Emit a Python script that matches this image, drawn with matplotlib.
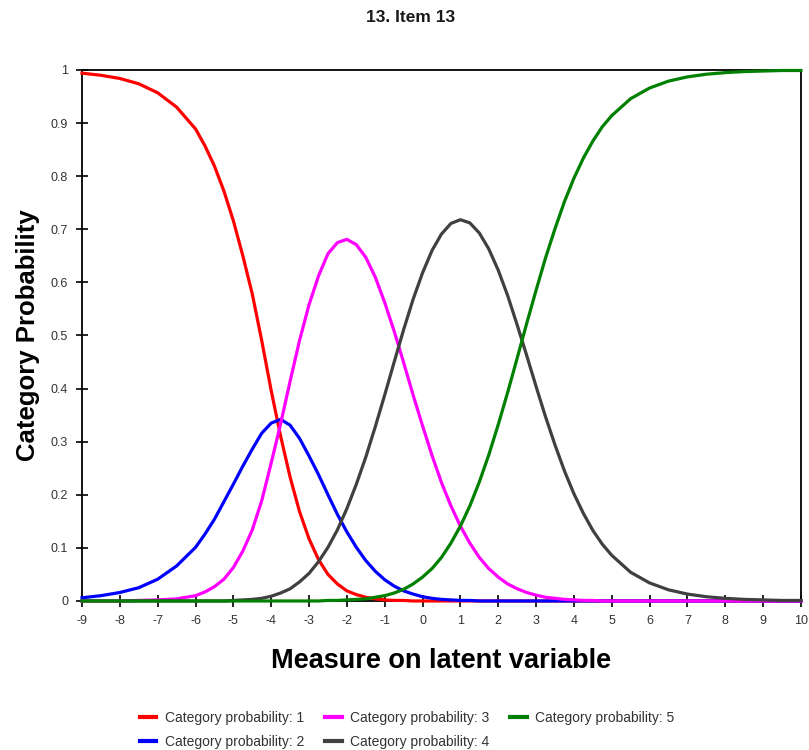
import matplotlib
matplotlib.use('Agg')
import matplotlib.pyplot as plt

plt.rcParams['font.family'] = ['Liberation Sans', 'DejaVu Sans']

# Measure on latent variable (grid)
theta = [-9, -8.5, -8, -7.5, -7, -6.5,
         -6, -5.75, -5.5, -5.25, -5, -4.75, -4.5, -4.25, -4, -3.75, -3.5, -3.25,
         -3, -2.75, -2.5, -2.25, -2, -1.75, -1.5, -1.25, -1, -0.75, -0.5, -0.25,
         0, 0.25, 0.5, 0.75, 1, 1.25, 1.5, 1.75, 2, 2.25, 2.5, 2.75,
         3, 3.25, 3.5, 3.75, 4, 4.25, 4.5, 4.75, 5,
         5.5, 6, 6.5, 7, 7.5, 8, 8.5, 9, 9.5, 10]

# Category probabilities
cat1 = [0.994, 0.990, 0.984, 0.974, 0.957, 0.930,
        0.889, 0.857, 0.819, 0.772, 0.716, 0.650, 0.578, 0.490, 0.396, 0.310, 0.233, 0.168,
        0.117, 0.078, 0.050, 0.032, 0.019, 0.012, 0.007, 0.004, 0.002, 0.001, 0.001, 0.0,
        0, 0, 0, 0, 0, 0, 0, 0, 0, 0, 0, 0,
        0, 0, 0, 0, 0, 0, 0, 0, 0,
        0, 0, 0, 0, 0, 0, 0, 0, 0, 0]
cat2 = [0.006, 0.010, 0.016, 0.025, 0.041, 0.066,
        0.101, 0.126, 0.154, 0.187, 0.220, 0.254, 0.286, 0.316, 0.335, 0.342, 0.331, 0.306,
        0.273, 0.238, 0.200, 0.163, 0.130, 0.101, 0.076, 0.056, 0.040, 0.028, 0.019, 0.013,
        0.008, 0.005, 0.003, 0.002, 0.001, 0.001, 0, 0, 0, 0, 0, 0,
        0, 0, 0, 0, 0, 0, 0, 0, 0,
        0, 0, 0, 0, 0, 0, 0, 0, 0, 0]
cat3 = [0, 0, 0, 0.001, 0.002, 0.004,
        0.010, 0.017, 0.027, 0.041, 0.063, 0.094, 0.134, 0.189, 0.260, 0.334, 0.414, 0.491,
        0.558, 0.612, 0.654, 0.675, 0.681, 0.671, 0.647, 0.610, 0.562, 0.508, 0.449, 0.388,
        0.330, 0.274, 0.223, 0.179, 0.141, 0.109, 0.082, 0.061, 0.045, 0.032, 0.023, 0.016,
        0.011, 0.007, 0.005, 0.003, 0.002, 0.001, 0.001, 0, 0,
        0, 0, 0, 0, 0, 0, 0, 0, 0, 0]
cat4 = [0, 0, 0, 0, 0, 0,
        0, 0, 0, 0, 0.001, 0.002, 0.003, 0.005, 0.009, 0.015, 0.023, 0.036,
        0.052, 0.074, 0.101, 0.134, 0.174, 0.220, 0.271, 0.328, 0.388, 0.450, 0.511, 0.568,
        0.618, 0.660, 0.691, 0.711, 0.718, 0.712, 0.693, 0.663, 0.623, 0.575, 0.520, 0.463,
        0.404, 0.347, 0.294, 0.245, 0.202, 0.165, 0.133, 0.107, 0.086,
        0.054, 0.034, 0.021, 0.013, 0.008, 0.005, 0.003, 0.002, 0.001, 0.001]
cat5 = [0, 0, 0, 0, 0, 0,
        0, 0, 0, 0, 0, 0, 0, 0, 0, 0, 0, 0,
        0, 0, 0.001, 0.001, 0.002, 0.003, 0.004, 0.007, 0.010, 0.015, 0.022, 0.032,
        0.045, 0.061, 0.082, 0.109, 0.141, 0.179, 0.224, 0.275, 0.332, 0.393, 0.457, 0.522,
        0.585, 0.646, 0.701, 0.752, 0.796, 0.834, 0.866, 0.893, 0.914,
        0.946, 0.966, 0.979, 0.987, 0.992, 0.995, 0.997, 0.998, 0.999, 0.999]

labels = ['Category probability: 1', 'Category probability: 2', 'Category probability: 3',
          'Category probability: 4', 'Category probability: 5']
colors = ['#ff0000', '#0000ff', '#ff00ff', '#404040', '#008000']
x_ticks = list(range(-9, 11))
y_ticks = [0, 0.1, 0.2, 0.3, 0.4, 0.5, 0.6, 0.7, 0.8, 0.9, 1]
y_ticklabels = ['0', '0.1', '0.2', '0.3', '0.4', '0.5', '0.6', '0.7', '0.8', '0.9', '1']

fig = plt.figure(figsize=(8.09, 7.5), dpi=100)
ax = fig.add_axes([0.1014, 0.1987, 0.8886, 0.708])

for series, c, lab in zip([cat1, cat2, cat3, cat4, cat5], colors, labels):
    ax.plot(theta, series, color=c, linewidth=2.3, label=lab, clip_on=False, zorder=3,
            solid_joinstyle='round')

ax.set_xlim(-9, 10)
ax.set_ylim(0, 1)
ax.set_xticks(x_ticks)
ax.set_xticklabels([str(t) for t in x_ticks])
ax.set_yticks(y_ticks)
ax.set_yticklabels(y_ticklabels)
ax.tick_params(direction='inout', length=8, width=1.2, labelsize=9, labelcolor='#333333',
               colors='black')
ax.tick_params(axis='x', pad=6)
ax.tick_params(axis='y', pad=6)
for s in ax.spines.values():
    s.set_linewidth(1.3)
    s.set_color('black')
    s.set_zorder(2)

ax.set_xlabel('Measure on latent variable', fontsize=19.5, fontweight='bold', labelpad=15)
ax.set_ylabel('Category Probability', fontsize=18.5, fontweight='bold', labelpad=8)
fig.suptitle('13. Item 13', x=0.507, y=0.987, fontsize=12.5, fontweight='bold', color='#1a1a1a')

leg = fig.legend(loc='upper center', ncol=3, frameon=False, fontsize=10,
                 handlelength=1.2, handletextpad=0.6, columnspacing=1.5,
                 labelspacing=0.75, borderaxespad=0,
                 bbox_to_anchor=(0.503, 1 - 705 / 750))
for t in leg.get_texts():
    t.set_color('#333333')
for h in leg.get_lines():
    h.set_linewidth(3)

fig.savefig('out.png', dpi=100)
